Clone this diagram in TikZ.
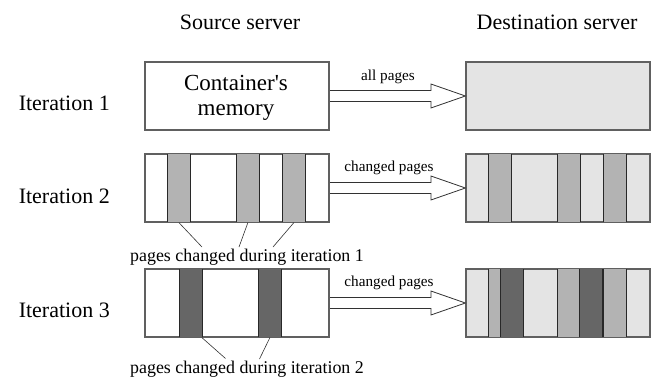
\documentclass[tikz,border=0pt]{standalone}
\usepackage{fontspec}
\setmainfont{Liberation Serif}
\usetikzlibrary{calc}
\definecolor{boxline}{RGB}{96,96,96}
\definecolor{lightfill}{RGB}{228,228,228}
\definecolor{midfill}{RGB}{179,179,179}
\definecolor{darkfill}{RGB}{102,102,102}
\definecolor{stripeline}{RGB}{40,40,40}
\definecolor{arrline}{RGB}{50,50,50}
\tikzset{
  srcbox/.style={draw=boxline, line width=1.2pt, fill=white, minimum width=184pt, minimum height=68pt, inner sep=0pt},
  dstbox/.style={draw=boxline, line width=1.2pt, fill=lightfill, minimum width=184pt, minimum height=68pt, inner sep=0pt},
  midstripe/.style={draw=stripeline, line width=0.6pt, fill=midfill},
  darkstripe/.style={draw=stripeline, line width=0.6pt, fill=darkfill},
  boxframe/.style={draw=boxline, line width=1.2pt},
  bigarr/.style={draw=arrline, line width=0.8pt, fill=white},
  leader/.style={draw=arrline, line width=0.6pt},
  bigtxt/.style={font=\fontsize{22}{24}\selectfont, inner sep=0pt},
  memtxt/.style={font=\fontsize{23}{25}\selectfont, inner sep=0pt, align=center},
  smalltxt/.style={font=\fontsize{15.2}{17}\selectfont, inner sep=0pt},
  leadtxt/.style={font=\fontsize{17.9}{20}\selectfont, inner sep=0pt}
}
\begin{document}
\begin{tikzpicture}[x=1pt,y=-1pt]
\useasboundingbox (0,0) rectangle (657,380);

% titles
\node[bigtxt, anchor=base] (tsrc) at (240,29) {Source server};
\node[bigtxt, anchor=base] (tdst) at (557,29) {Destination server};

% iteration labels
\node[bigtxt, anchor=east] (it1) at (110,103) {Iteration 1};
\node[bigtxt, anchor=east] (it2) at (110,196) {Iteration 2};
\node[bigtxt, anchor=east] (it3) at (110,310) {Iteration 3};

% boxes
\node[srcbox] (s1) at (237,96) {};
\node[dstbox] (d1) at (558,96) {};
\node[srcbox] (s2) at (237,188) {};
\node[dstbox] (d2) at (558,188) {};
\node[srcbox] (s3) at (237,303) {};
\node[dstbox] (d3) at (558,303) {};

% iteration 1 text
\node[memtxt] (mem) at (236,98) {Container\textquotesingle s\\memory};

% iteration 2 stripes (source and destination)
\foreach \b in {s2,d2}{
  \foreach \o in {23,92,138}{
    \draw[midstripe] ($(\b.north west)+(\o,0)$) rectangle ($(\b.south west)+(\o+23,0)$);
  }
}
% iteration 3: destination keeps iteration 2 pages, plus new ones
\foreach \o in {23,92,138}{
  \draw[midstripe] ($(d3.north west)+(\o,0)$) rectangle ($(d3.south west)+(\o+23,0)$);
}
\foreach \b in {s3,d3}{
  \foreach \o in {35,114}{
    \draw[darkstripe] ($(\b.north west)+(\o,0)$) rectangle ($(\b.south west)+(\o+23,0)$);
  }
}
% redraw frames on top
\foreach \b in {s2,d2,s3,d3}{
  \draw[boxframe] (\b.north west) rectangle (\b.south east);
}

% big arrows
\foreach \s/\d in {s1/d1,s2/d2,s3/d3}{
  \draw[bigarr] ($(\s.east)+(0.6,-5.5)$) -- ($(\d.west)+(-34.5,-5.5)$) -- ($(\d.west)+(-34.5,-12)$)
    -- (\d.west) -- ($(\d.west)+(-34.5,12)$) -- ($(\d.west)+(-34.5,5.5)$) -- ($(\s.east)+(0.6,5.5)$);
}

% arrow labels
\node[smalltxt, anchor=base] (lab1) at (388,80) {all pages};
\node[smalltxt, anchor=base] (lab2) at (389,171.5) {changed pages};
\node[smalltxt, anchor=base] (lab3) at (389,286.5) {changed pages};

% leader texts
\node[leadtxt, anchor=base] (lt2) at (247,261) {pages changed during iteration 1};
\node[leadtxt, anchor=base] (lt3) at (247,373) {pages changed during iteration 2};

% leader lines iteration 2
\coordinate (a1) at ($(s2.south west)+(34.5,0)$);
\coordinate (a2) at ($(s2.south west)+(103.5,0)$);
\coordinate (a3) at ($(s2.south west)+(149.5,0)$);
\coordinate (e1) at (202,247);
\coordinate (e2) at (239,247);
\coordinate (e3) at (273,247);
\draw[leader] (a1) -- (e1);
\draw[leader] (a2) -- (e2);
\draw[leader] (a3) -- (e3);

% leader lines iteration 3
\coordinate (b1) at ($(s3.south west)+(57.5,0)$);
\coordinate (b2) at ($(s3.south west)+(125.5,0)$);
\coordinate (f1) at (225.5,358.5);
\coordinate (f2) at (259.5,359);
\draw[leader] (b1) -- (f1);
\draw[leader] (b2) -- (f2);
\end{tikzpicture}
\end{document}
